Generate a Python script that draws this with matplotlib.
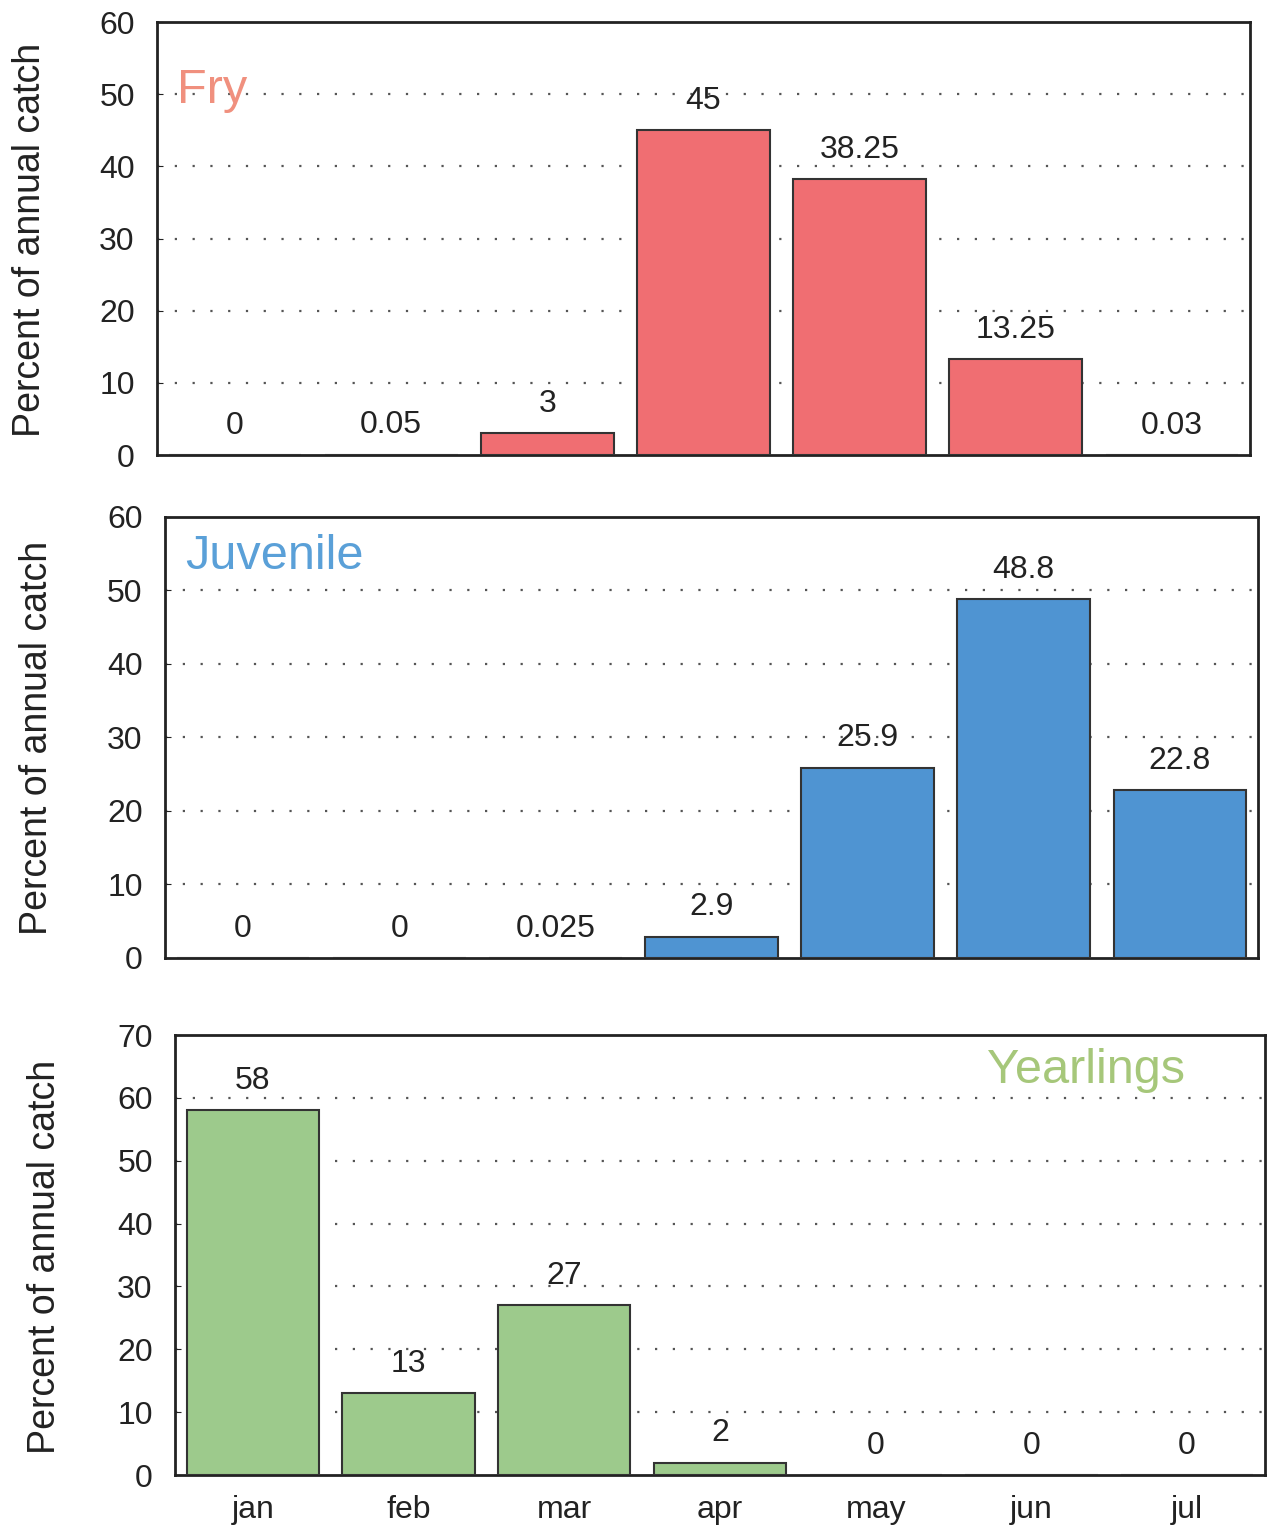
import matplotlib
matplotlib.use("Agg")
import matplotlib.pyplot as plt

plt.rcParams['font.family'] = ['Liberation Sans', 'DejaVu Sans']

months = ['jan', 'feb', 'mar', 'apr', 'may', 'jun', 'jul']
fry = [0, 0.05, 3, 45, 38.25, 13.25, 0.03]
fry_lbl = ['0', '0.05', '3', '45', '38.25', '13.25', '0.03']
juv = [0, 0, 0.025, 2.9, 25.9, 48.8, 22.8]
juv_lbl = ['0', '0', '0.025', '2.9', '25.9', '48.8', '22.8']
yrl = [58, 13, 27, 2, 0, 0, 0]
yrl_lbl = ['58', '13', '27', '2', '0', '0', '0']

panels = [
    # data, labels, bar colour, title, title colour, ymax, title pos, axes rect, ylabel centre (px)
    (fry, fry_lbl, '#f06e72', 'Fry', '#f0907e', 60, (-0.37, 50.5, 'left'),
     [0.1238, 0.7026, 0.8620, 0.2830], (30, 240)),
    (juv, juv_lbl, '#4f94d2', 'Juvenile', '#5aa0d8', 60, (-0.37, 54.6, 'left'),
     [0.1301, 0.3739, 0.8620, 0.2882], (37, 738)),
    (yrl, yrl_lbl, '#9dca8c', 'Yearlings', '#a6c77a', 70, (5.35, 64.4, 'center'),
     [0.1380, 0.0359, 0.8596, 0.2876], (45, 1257)),
]

W, H = 1268, 1530
fig = plt.figure(figsize=(W / 100, H / 100), dpi=100)
x = list(range(len(months)))
for i, (vals, lbls, col, title, tcol, ymax, tpos, rect, ylc) in enumerate(panels):
    ax = fig.add_axes(rect)
    ax.bar(x, vals, width=0.85, color=col, edgecolor='#333333', linewidth=1.5, zorder=3)
    for xi, v, s in zip(x, vals, lbls):
        ax.annotate(s, (xi, v), xytext=(0, 21), textcoords='offset points',
                    ha='center', va='center', fontsize=23, color='#222222')
    ax.set_xlim(-0.5, 6.5)
    ax.set_ylim(0, ymax)
    ax.set_yticks(range(0, ymax + 1, 10))
    for g in range(10, ymax, 10):
        ax.axhline(g, color='#555555', ls=(0, (1, 7)), lw=1.6, zorder=1)
    ax.text(tpos[0], tpos[1], title, color=tcol, fontsize=35, ha=tpos[2], va='center', zorder=4)
    for sp in ax.spines.values():
        sp.set_linewidth(2)
        sp.set_color('#222222')
    ax.tick_params(axis='y', direction='in', length=4, labelsize=23, pad=16, colors='#222222')
    fig.text(ylc[0] / W, 1 - ylc[1] / H, 'Percent of annual catch', rotation=90,
             ha='center', va='center', fontsize=27, color='#222222')
    ax.set_xticks(x)
    if i == 2:
        ax.set_xticklabels(months)
        ax.tick_params(axis='x', length=0, labelsize=23, pad=14, colors='#222222')
    else:
        ax.set_xticklabels([])
        ax.tick_params(axis='x', length=0)

plt.savefig('out.png', dpi=100)
